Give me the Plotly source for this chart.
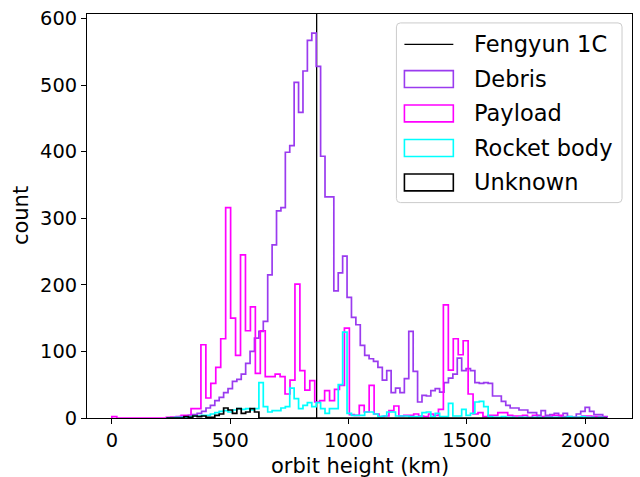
import numpy as np
import plotly.graph_objects as go

# ---------------- data ----------------
categories = ["Debris", "Payload", "Rocket body", "Unknown"]

debris_counts = [0, 1, 1, 2, 2, 4, 5, 7, 10, 15,
                 19, 26, 31, 38, 44, 55, 58, 66, 82, 100,
                 120, 130, 145, 215, 260, 311, 316, 399, 409, 504,
                 459, 521, 567, 578, 528, 393, 332, 332, 191, 218,
                 243, 181, 151, 140, 109, 94, 89, 85, 76, 57,
                 71, 38, 45, 38, 59, 130, 70, 24, 34, 33,
                 41, 44, 39, 53, 60, 66, 90, 71, 74, 71,
                 53, 52, 53, 52, 33, 33, 25, 19, 15, 15,
                 12, 12, 8, 8, 4, 11, 4, 5, 7, 3,
                 7, 1, 1, 6, 10, 16, 10, 5, 5, 2]

payload_counts = [2, 0, 0, 0, 0, 0, 0, 0, 0, 0,
                  0, 1, 1, 2, 4, 4, 14, 14, 110, 30,
                  52, 76, 119, 316, 150, 94, 245, 131, 167, 67,
                  131, 62, 62, 66, 62, 36, 57, 201, 71, 42,
                  56, 24, 26, 41, 26, 43, 49, 135, 5, 4,
                  19, 9, 49, 6, 2, 3, 11, 18, 3, 4,
                  4, 6, 3, 2, 6, 4, 13, 170, 72, 119,
                  95, 116, 36, 6, 8, 2, 4, 4, 8, 8,
                  4, 3, 3, 4, 1, 4, 1, 2, 2, 4,
                  4, 2, 2, 1, 1, 3, 3, 2, 2, 1]

rocket_counts = [0, 0, 1, 1, 1, 2, 3, 3, 4, 4,
                 6, 8, 10, 11, 9, 12, 14, 13, 14, 12,
                 14, 53, 17, 9, 11, 11, 15, 17, 45, 29,
                 14, 19, 23, 17, 23, 14, 7, 14, 14, 50,
                 129, 7, 4, 4, 4, 9, 9, 6, 2, 3,
                 9, 9, 3, 3, 3, 2, 2, 2, 8, 9,
                 2, 7, 2, 2, 22, 3, 3, 13, 4, 7,
                 24, 25, 17, 2, 1, 1, 2, 1, 1, 0,
                 1, 1, 0, 1, 1, 0, 1, 1, 1, 0,
                 1, 2, 1, 1, 2, 1, 1, 0, 1, 0]

unknown_counts = [0, 0, 0, 0, 2, 1, 3, 2, 3, 1,
                  1, 4, 6, 15, 12, 7, 14, 7, 9, 14,
                  9, 0, 0, 0, 0, 0, 0, 0, 0, 0,
                  0, 0, 0, 0, 0, 0, 0, 0, 0, 0,
                  0, 0, 0, 0, 0, 0, 0, 0, 0, 0,
                  0, 0, 0, 0, 0, 0, 0, 0, 0, 0,
                  0, 0, 0, 0, 0, 0, 0, 0, 0, 0,
                  0, 0, 0, 0, 0, 0, 0, 0, 0, 0,
                  0, 0, 0, 0, 0, 0, 0, 0, 0, 0,
                  0, 0, 0, 0, 0, 0, 0, 0, 0, 0]

fengyun_label = "Fengyun 1C"
fengyun_height_km = 865

n_bins = 100
payload_range = (0.0, 2090.0)
other_range = (230.0, 2092.0)

x_ticks = [0, 500, 1000, 1500, 2000]
y_ticks = [0, 100, 200, 300, 400, 500, 600]
x_title = "orbit height (km)"
y_title = "count"

# ---------------- styling ----------------
colors = {"Debris": "#9a3bef", "Payload": "#ff00ff",
          "Rocket body": "#00ffff", "Unknown": "#000000"}
FONT = "DejaVu Sans"
W, H = 640, 477
ML, MR, MT, MB = 87, 7, 11, 59
PW, PH = W - ML - MR, H - MT - MB
X_RANGE = [-105, 2197]
Y_RANGE = [0, 606.6]


def step_xy(counts, rng):
    edges = np.linspace(rng[0], rng[1], len(counts) + 1)
    xs = [edges[0]] + list(edges[:-1]) + [edges[-1]]
    ys = [0] + list(counts) + [0]
    return xs, ys


series = [("Debris", debris_counts, other_range),
          ("Payload", payload_counts, payload_range),
          ("Rocket body", rocket_counts, other_range),
          ("Unknown", unknown_counts, other_range)]

fig = go.Figure()

fig.add_trace(go.Scatter(x=[fengyun_height_km, fengyun_height_km], y=Y_RANGE,
                         mode="lines", line=dict(color="black", width=1.3),
                         name=fengyun_label, showlegend=False, hoverinfo="skip"))

for name, counts, rng in series:
    xs, ys = step_xy(counts, rng)
    fig.add_trace(go.Scatter(x=xs, y=ys, mode="lines", line_shape="hv",
                             line=dict(color=colors[name], width=1.7),
                             name=name, showlegend=False))


# ---------------- manual legend (matplotlib style) ----------------
def px_x(px):
    return (px - ML) / PW


def px_y(py):
    return (MT + PH - py) / PH


shapes = []
annotations = []

L, R, T, B, rad = 397, 623, 20, 201, 4
path = (f"M{px_x(L + rad)},{px_y(T)} L{px_x(R - rad)},{px_y(T)} "
        f"Q{px_x(R)},{px_y(T)} {px_x(R)},{px_y(T + rad)} "
        f"L{px_x(R)},{px_y(B - rad)} Q{px_x(R)},{px_y(B)} {px_x(R - rad)},{px_y(B)} "
        f"L{px_x(L + rad)},{px_y(B)} Q{px_x(L)},{px_y(B)} {px_x(L)},{px_y(B - rad)} "
        f"L{px_x(L)},{px_y(T + rad)} Q{px_x(L)},{px_y(T)} {px_x(L + rad)},{px_y(T)} Z")
shapes.append(dict(type="path", xref="paper", yref="paper", path=path,
                   fillcolor="rgba(255,255,255,0.8)",
                   line=dict(color="#cccccc", width=1)))

rows = [41.7, 76.5, 111.2, 146.0, 180.7]
hx0, hx1, tx = 405, 454, 473
labels = [fengyun_label] + categories
for i, (lab, ry) in enumerate(zip(labels, rows)):
    if i == 0:
        shapes.append(dict(type="line", xref="paper", yref="paper",
                           x0=px_x(hx0), x1=px_x(hx1), y0=px_y(ry), y1=px_y(ry),
                           line=dict(color="black", width=1.3)))
    else:
        shapes.append(dict(type="rect", xref="paper", yref="paper",
                           x0=px_x(hx0), x1=px_x(hx1),
                           y0=px_y(ry + 8.5), y1=px_y(ry - 8.5),
                           line=dict(color=colors[lab], width=1.6)))
    annotations.append(dict(text=lab, xref="paper", yref="paper",
                            x=px_x(tx), y=px_y(ry), xanchor="left", yanchor="middle",
                            showarrow=False, font=dict(family=FONT, size=22.5, color="black")))

# axis titles
annotations.append(dict(text=x_title, xref="paper", yref="paper", x=0.5, y=px_y(466),
                        xanchor="center", yanchor="middle", showarrow=False,
                        font=dict(family=FONT, size=21, color="black")))
annotations.append(dict(text=y_title, xref="paper", yref="paper", x=px_x(21), y=0.5,
                        xanchor="center", yanchor="middle", textangle=-90, showarrow=False,
                        font=dict(family=FONT, size=21, color="black")))

axis_common = dict(showgrid=False, zeroline=False, showline=True, linecolor="black",
                   linewidth=1.1, mirror=True, ticks="outside", ticklen=5, tickwidth=1.1,
                   tickcolor="black", tickfont=dict(family=FONT, size=19.4, color="black"))

fig.update_layout(
    width=W, height=H, margin=dict(l=ML, r=MR, t=MT, b=MB, pad=0),
    paper_bgcolor="white", plot_bgcolor="white",
    showlegend=False,
    xaxis=dict(range=X_RANGE, tickmode="array", tickvals=x_ticks, **axis_common),
    yaxis=dict(range=Y_RANGE, tickmode="array", tickvals=y_ticks, **axis_common),
    shapes=shapes, annotations=annotations,
    font=dict(family=FONT),
)

fig.write_html("out.html")
